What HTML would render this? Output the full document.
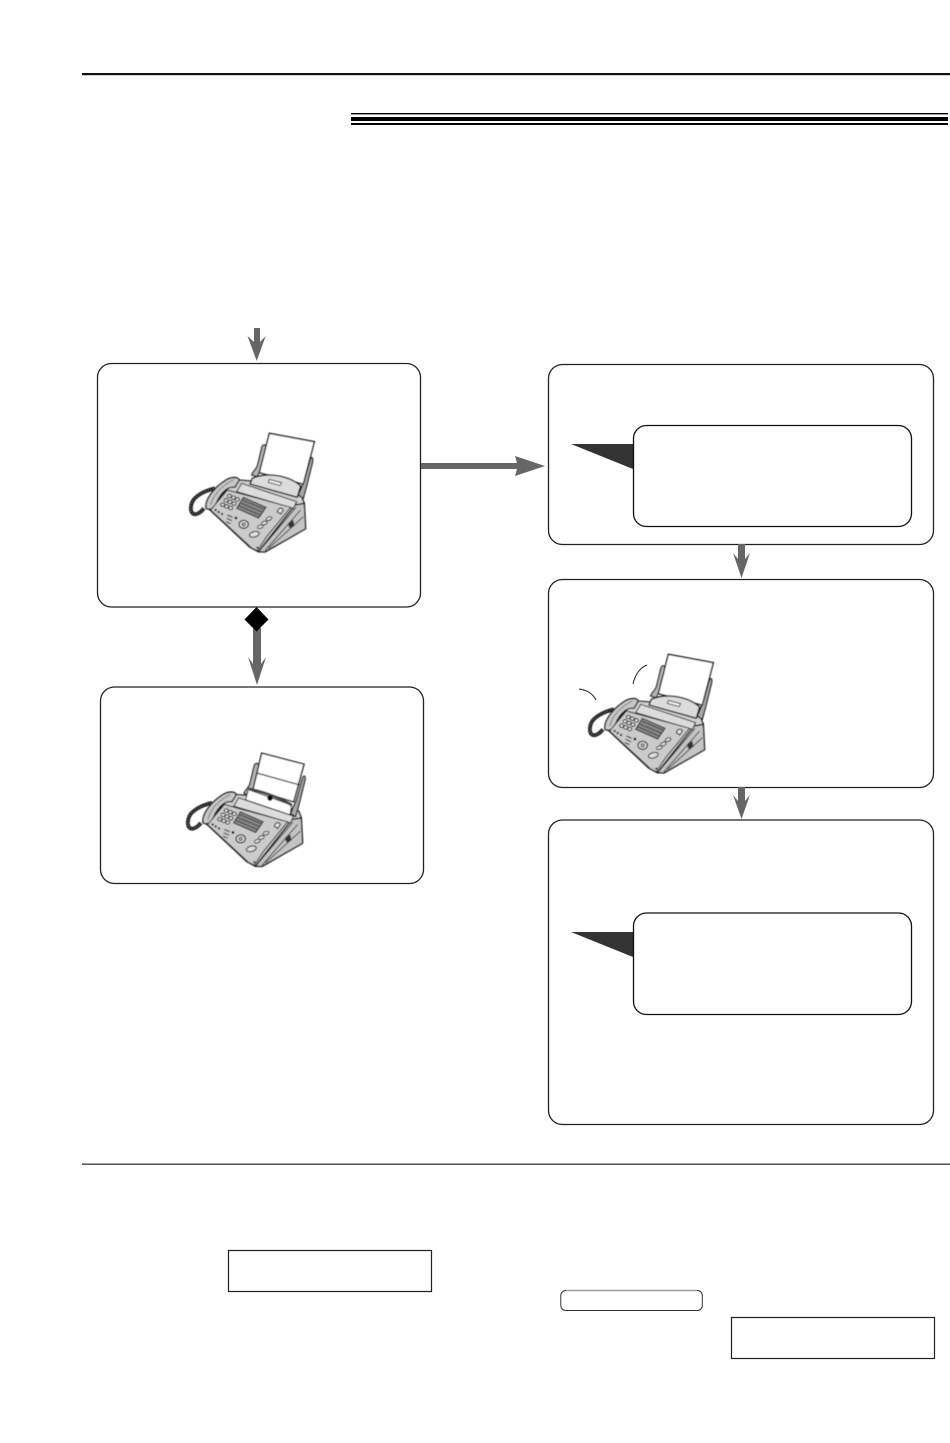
<!DOCTYPE html>
<html><head><meta charset="utf-8"><style>
html,body{margin:0;padding:0;background:#fff}
svg{display:block}
</style></head><body>
<svg xmlns="http://www.w3.org/2000/svg" width="950" height="1443" viewBox="0 0 950 1443">
<defs>
<filter id="soft" x="-5%" y="-5%" width="110%" height="110%"><feGaussianBlur stdDeviation="0.4"/></filter>
<g id="body">
  <!-- cord -->
  <path d="M102,265 C78,295 55,285 65,250 C72,228 105,212 135,205" fill="none" stroke="#111" stroke-width="11"/>
  <path d="M102,265 C78,295 55,285 65,250 C72,228 105,212 135,205" fill="none" stroke="#777" stroke-width="4" stroke-dasharray="3 5"/>
  <!-- right wall and base -->
  <path d="M265,395 L285,396 L407,326 L403,250 L375,255 Z" fill="#c4c4c4" stroke="#111" stroke-width="4" stroke-linejoin="round"/>
  <!-- top deck -->
  <path d="M118,268 L170,208 L205,180 L240,183 L395,230 L403,250 L375,255 L265,395 L240,382 Z" fill="#d0d0d0" stroke="#111" stroke-width="4" stroke-linejoin="round"/>
  <path d="M215,190 L380,245 L370,265 L200,215 Z" fill="#dcdcdc" stroke="#222" stroke-width="3"/>
  <!-- handset -->
  <path d="M108,264 C104,240 130,205 165,182 C180,172 202,168 208,180 L195,202 C170,197 145,227 135,262 C125,268 113,270 108,264 Z" fill="#c8c8c8" stroke="#111" stroke-width="4" stroke-linejoin="round"/>
  <path d="M122,255 C130,228 150,200 190,180" fill="none" stroke="#444" stroke-width="2"/>
  <!-- front panel -->
  <path d="M122,270 L172,210 L362,262 L290,350 L262,392 L245,384 Z" fill="#cbcbcb" stroke="#222" stroke-width="3" stroke-linejoin="round"/>
  <!-- keypad -->
  <g fill="#e4e4e4" stroke="#111" stroke-width="3">
    <ellipse cx="178" cy="228" rx="6" ry="5"/><ellipse cx="190" cy="233" rx="6" ry="5"/><ellipse cx="202" cy="238" rx="6" ry="5"/>
    <ellipse cx="168" cy="241" rx="6" ry="5"/><ellipse cx="180" cy="246" rx="6" ry="5"/><ellipse cx="192" cy="251" rx="6" ry="5"/>
    <ellipse cx="158" cy="254" rx="6" ry="5"/><ellipse cx="170" cy="259" rx="6" ry="5"/><ellipse cx="182" cy="264" rx="6" ry="5"/>
  </g>
  <g fill="#111"><circle cx="137" cy="270" r="3.5"/><circle cx="146" cy="276" r="3.5"/><circle cx="156" cy="282" r="3.5"/><circle cx="198" cy="294" r="4"/></g>
  <g fill="none" stroke="#111" stroke-width="3"><path d="M172,285 l16,7 M170,295 l16,7 M168,305 l14,6"/></g>
  <!-- display -->
  <path d="M200,265 L220,232 L288,262 L266,294 Z" fill="#8a8a8a" stroke="#111" stroke-width="3"/>
  <path d="M208,258 L270,285 M214,250 L276,276 M220,241 L282,267" stroke="#111" stroke-width="3.5" stroke-dasharray="4 2" fill="none"/>
  <!-- controls -->
  <ellipse cx="221" cy="313" rx="14" ry="12" fill="#dedede" stroke="#111" stroke-width="3.5"/>
  <circle cx="221" cy="313" r="5" fill="#aaa" stroke="#111" stroke-width="2"/>
  <ellipse cx="253" cy="343" rx="15" ry="8" fill="#dedede" stroke="#111" stroke-width="3" transform="rotate(-15 253 343)"/>
  <g fill="#dedede" stroke="#111" stroke-width="2.8">
    <ellipse cx="297" cy="296" rx="9" ry="5" transform="rotate(-20 297 296)"/>
    <ellipse cx="283" cy="309" rx="9" ry="5" transform="rotate(-20 283 309)"/>
    <ellipse cx="271" cy="320" rx="9" ry="5" transform="rotate(-20 271 320)"/>
  </g>
  <!-- side strips -->
  <path d="M272,388 L378,262 M285,392 L392,270 M296,385 L400,290" stroke="#222" stroke-width="2.6" fill="none"/>
  <path d="M354,310 L370,300 L373,318 L358,324 Z" fill="#333"/>
  <path d="M322,275 C326,262 336,262 340,270 L332,282 Z" fill="#e4e4e4" stroke="#111" stroke-width="3"/>
  <circle cx="262" cy="383" r="3" fill="#111"/>
</g>
<g id="guides">
  <path d="M245,165 C250,150 262,148 264,130 L276,80 C282,68 292,78 288,90 L278,135 C274,150 268,152 262,170 Z" fill="#b4b4b4" stroke="#111" stroke-width="3.5" stroke-linejoin="round"/>
  <path d="M385,225 L402,185 L420,120 C425,108 430,112 428,125 L412,190 L400,235 Z" fill="#a8a8a8" stroke="#111" stroke-width="3.5" stroke-linejoin="round"/>
</g>
<g id="fax">
  <use href="#body"/>
  <use href="#guides"/>
  <path d="M298,40 L433,65 L400,192 L268,158 Z" fill="#fff" stroke="#000" stroke-width="4" stroke-linejoin="miter"/>
  <path d="M247,175 C300,152 365,172 392,198 L382,232 L240,192 Z" fill="#dcdcdc" stroke="#111" stroke-width="4" stroke-linejoin="round"/>
  <path d="M298,178 L335,188 L330,197 L295,187 Z" fill="#f0f0f0" stroke="#222" stroke-width="2.5"/>
</g>
<g id="fax2">
  <use href="#body"/>
  <use href="#guides" transform="translate(-14,12)"/>
  <path d="M284,56 L411,89 L380,202 L258,165 Z" fill="#fff" stroke="#000" stroke-width="4"/>
  <path d="M271,116 L397,151" stroke="#000" stroke-width="3.5" fill="none"/>
  <path d="M244,165 L374,212 L369,241 L236,196 Z" fill="#fff" stroke="#111" stroke-width="3"/>
  <path d="M244,163 C285,170 340,190 374,212" fill="none" stroke="#444" stroke-width="8"/>
  <circle cx="309" cy="191" r="8" fill="#000"/>
</g>
</defs>

<!-- rules -->
<rect x="82" y="73" width="868" height="2.2" fill="#111"/>
<rect x="351" y="113" width="597" height="1.4" fill="#000"/>
<rect x="351" y="117" width="597" height="4" fill="#000"/>
<rect x="351" y="123" width="597" height="2" fill="#000"/>
<rect x="82" y="1163.6" width="868" height="1.1" fill="#111"/>

<!-- boxes -->
<g fill="none" stroke="#222" stroke-width="1.3">
  <rect x="97.5" y="363.5" width="323" height="243.5" rx="14"/>
  <rect x="100.5" y="687" width="323" height="196.5" rx="14"/>
  <rect x="548.5" y="364.5" width="385" height="180" rx="14"/>
  <rect x="548.5" y="579.5" width="385" height="208" rx="14"/>
  <rect x="548.5" y="820" width="385" height="304.5" rx="14"/>
</g>
<path d="M571,444 L633,444 L633,469 Z" fill="#333"/>
<path d="M571,932 L633,932 L633,957 Z" fill="#333"/>
<g fill="#fff" stroke="#111" stroke-width="1.3">
  <rect x="633.5" y="425.5" width="278" height="101" rx="13"/>
  <rect x="633.5" y="913" width="278" height="101.5" rx="13"/>
</g>

<!-- arrows -->
<g fill="#666">
  <path d="M254,328 H260 V342 L265.7,336 L256.7,361 L247.5,336 L254,342 Z"/>
  <path d="M421,463 H517 L515,456 L545,466 L515,476 L517,469 H421 Z"/>
  <path d="M738,544 H745 V559 L750,553 L741.5,578 L733,553 L738,559 Z"/>
  <path d="M738,787 H745 V801 L750,795 L741.5,819 L733,795 L738,801 Z"/>
  <path d="M253,628 H261 V664 L266,657 L257,685 L248,657 L253,664 Z"/>
</g>
<path d="M256.5,607 L268.5,619.5 L256.5,631.5 L244.5,619.5 Z" fill="#000"/>

<!-- faxes -->
<g filter="url(#soft)">
  <use href="#fax" transform="translate(170,420) scale(.3333)"/>
</g>
<g filter="url(#soft)">
  <use href="#fax2" transform="translate(167,734.5) scale(.3333)"/>
</g>
<g filter="url(#soft)">
  <use href="#fax" transform="translate(569,641) scale(.3333)"/>
</g>
<path d="M579,689 C587,690 593,694 596,700" fill="none" stroke="#222" stroke-width="1"/>
<path d="M633,684 C635,674 641,667 647,665" fill="none" stroke="#222" stroke-width="1"/>

<!-- bottom boxes -->
<g fill="#fff" stroke="#222" stroke-width="1.2">
  <rect x="228.5" y="1250.5" width="203" height="41"/>
  <rect x="731.5" y="1317.5" width="203" height="41"/>
</g>
<rect x="560.8" y="1290.5" width="141.5" height="20" rx="5" fill="#fff" stroke="#333" stroke-width="1"/>
<path d="M566,1290.5 H697" stroke="#999" stroke-width="1.6"/>
</svg>
</body></html>
